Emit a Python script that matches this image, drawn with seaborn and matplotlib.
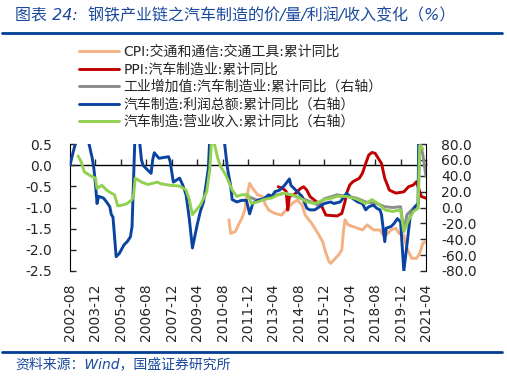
import pandas as pd
import numpy as np
import matplotlib
matplotlib.use('Agg')
import matplotlib.pyplot as plt
import seaborn as sns
from matplotlib.lines import Line2D
from matplotlib.ticker import FormatStrFormatter
import matplotlib.dates as mdates

# values (cumulative yoy)
# left axis
cpi_dates = ['2010-12', '2011-01', '2011-04', '2011-06', '2011-08', '2011-10', '2011-11', '2012-01',
             '2012-03', '2012-06', '2012-09', '2012-11', '2013-01', '2013-05', '2013-09', '2013-12',
             '2014-04', '2014-07', '2014-10', '2014-12', '2015-04', '2015-08', '2015-11', '2016-01',
             '2016-03', '2016-04', '2016-06', '2016-09', '2016-11', '2016-12', '2017-01', '2017-03',
             '2017-06', '2017-09', '2017-12', '2018-03', '2018-07', '2018-11', '2019-01', '2019-03',
             '2019-06', '2019-09', '2019-11', '2020-02', '2020-03', '2020-04', '2020-07', '2020-10',
             '2020-12', '2021-02', '2021-04']
cpi_vals = [-1.29, -1.61, -1.57, -1.41, -1.27, -1.06, -0.78, -0.43,
            -0.55, -0.70, -0.74, -0.94, -1.06, -1.14, -1.18, -1.06,
            -0.90, -0.82, -0.94, -1.18, -1.37, -1.61, -1.81, -2.08,
            -2.28, -2.32, -2.24, -2.12, -2.00, -1.57, -1.29, -1.41,
            -1.45, -1.49, -1.53, -1.41, -1.53, -1.53, -1.65, -1.65,
            -1.53, -1.49, -1.61, -1.65, -1.81, -1.96, -2.20, -2.20,
            -2.08, -1.84, -1.81]

ppi_dates = ['2013-07', '2013-10', '2013-12', '2014-01', '2014-02', '2014-05', '2014-09', '2014-11',
             '2015-01', '2015-03', '2015-07', '2015-10', '2016-01', '2016-08', '2016-11', '2017-01',
             '2017-02', '2017-04', '2017-06', '2017-10', '2017-12', '2018-02', '2018-04', '2018-06',
             '2018-08', '2018-10', '2018-12', '2019-02', '2019-05', '2019-09', '2020-02', '2020-05',
             '2020-08', '2020-10', '2021-01', '2021-04']
ppi_vals = [-0.51, -0.55, -0.62, -1.06, -0.74, -0.70, -0.55, -0.51,
            -0.59, -0.74, -0.86, -0.94, -1.18, -1.20, -1.14, -0.86,
            -0.66, -0.47, -0.39, -0.31, -0.19, 0.04, 0.24, 0.30,
            0.28, 0.16, 0.04, -0.31, -0.59, -0.66, -0.63, -0.51,
            -0.47, -0.39, -0.74, -0.78]

# right axis
iva_dates = ['2011-12', '2012-06', '2012-12', '2013-06', '2013-11', '2014-03', '2014-06', '2014-12',
             '2015-05', '2015-08', '2015-12', '2016-05', '2016-08', '2017-02', '2017-08', '2018-02',
             '2018-09', '2019-02', '2019-07', '2019-12', '2020-02', '2020-04', '2020-09', '2020-11',
             '2020-12', '2021-02', '2021-04']
iva_vals = [14, 9, 13, 16, 18, 16, 14, 10,
            6, 3, 11, 14, 16, 14, 12, 7,
            5, 1, 0, 1, -30, -9, 1, 3,
            85, 66, 39]

profit_dates = ['2002-08', '2002-10', '2002-12', '2003-02', '2003-04', '2003-06', '2003-08', '2003-10',
                '2003-11', '2003-12', '2004-01', '2004-02', '2004-05', '2004-07', '2004-09', '2004-10',
                '2004-11', '2005-01', '2005-03', '2005-06', '2005-08', '2005-10', '2005-11', '2005-12',
                '2006-01', '2006-02', '2006-03', '2006-04', '2006-05', '2006-06', '2006-08', '2006-11',
                '2006-12', '2007-01', '2007-04', '2007-10', '2007-11', '2008-01', '2008-05', '2008-07',
                '2008-09', '2008-11', '2009-01', '2009-04', '2009-06', '2009-08', '2009-11', '2009-12',
                '2010-02', '2010-05', '2010-07', '2010-09', '2010-11', '2011-01', '2011-02', '2011-05',
                '2011-08', '2011-11', '2012-01', '2012-03', '2012-06', '2012-10', '2013-01', '2013-03',
                '2013-05', '2013-08', '2013-11', '2014-02', '2014-03', '2014-06', '2014-10', '2015-01',
                '2015-03', '2015-06', '2015-09', '2015-12', '2016-04', '2016-06', '2016-10', '2017-02',
                '2017-04', '2017-09', '2017-12', '2018-02', '2018-04', '2018-07', '2018-09', '2018-11',
                '2018-12', '2019-02', '2019-03', '2019-06', '2019-08', '2019-10', '2019-12', '2020-02',
                '2020-04', '2020-06', '2020-09', '2020-11', '2020-12']
profit_vals = [53, 70, 85, 110, 120, 105, 80, 62,
               49, 30, 5, 14, 12, 7, 1, -9,
               -12, -62, -58, -47, -43, -37, -24, 37,
               100, 140, 120, 79, 60, 53, 49, 43,
               60, 69, 62, 64, 58, 32, 37, 28,
               16, -14, -51, -22, -5, 7, 49, 90,
               130, 140, 120, 85, 50, 28, 10, 7,
               9, 9, -8, 5, 9, 11, 16, 14,
               20, 22, 28, 36, 28, 22, 14, -1,
               -3, -3, 1, 5, 7, 5, 7, 18,
               14, 7, 5, -3, 1, 3, -1, -3,
               -9, -43, -26, -24, -20, -14, -18, -80,
               -47, -12, 1, 5, 250]

rev_dates = ['2003-01', '2003-03', '2003-05', '2003-08', '2003-12', '2004-01', '2004-04', '2004-07',
             '2004-10', '2004-12', '2005-02', '2005-05', '2005-08', '2005-11', '2005-12', '2006-01',
             '2006-05', '2006-09', '2007-03', '2007-05', '2007-11', '2008-05', '2008-09', '2008-11',
             '2009-01', '2009-06', '2009-10', '2009-12', '2010-01', '2010-02', '2010-03', '2010-05',
             '2010-07', '2010-10', '2011-02', '2011-05', '2011-08', '2011-12', '2012-02', '2012-06',
             '2012-10', '2013-03', '2013-07', '2013-11', '2014-03', '2014-07', '2015-01', '2015-06',
             '2015-12', '2016-05', '2016-08', '2017-02', '2017-08', '2018-02', '2018-06', '2018-11',
             '2019-02', '2019-07', '2019-12', '2020-02', '2020-05', '2020-08', '2020-11', '2020-12',
             '2021-02']
rev_vals = [65, 58, 45, 41, 37, 24, 28, 22,
            18, 16, 2, 3, 5, 10, 16, 37,
            32, 29, 32, 30, 28, 27, 22, 10,
            -9, 3, 20, 49, 85, 90, 79, 62,
            51, 41, 22, 14, 16, 16, 5, 7,
            10, 12, 16, 18, 16, 14, 7, 5,
            10, 12, 14, 14, 11, 5, 10, 3,
            -3, -5, -3, -30, -16, -5, -1, 78,
            74]

labels = ['CPI:交通和通信:交通工具:累计同比',
          'PPI:汽车制造业:累计同比',
          '工业增加值:汽车制造业:累计同比（右轴）',
          '汽车制造:利润总额:累计同比（右轴）',
          '汽车制造:营业收入:累计同比（右轴）']
colors = ['#F4B183', '#C00000', '#8C8C8C', '#0B43A0', '#92D050']

title = '图表 24:  钢铁产业链之汽车制造的价/量/利润/收入变化（%）'
source = '资料来源：Wind，国盛证券研究所'
blue_txt = '#1B4A9C'

sns.set_style('white')
plt.rcParams['font.family'] = ['DejaVu Sans', 'Noto Sans CJK SC']
plt.rcParams['axes.unicode_minus'] = False

def to_dt(lst):
    return pd.to_datetime(lst, format='%Y-%m')

fig = plt.figure(figsize=(5.07, 3.80), dpi=100)
ax = fig.add_axes([70 / 507, 1 - 271 / 380, 356 / 507, 127 / 380])
ax2 = ax.twinx()

lw = 2.1
sns.lineplot(x=to_dt(cpi_dates), y=cpi_vals, ax=ax, color=colors[0], lw=lw, legend=False)
sns.lineplot(x=to_dt(ppi_dates), y=ppi_vals, ax=ax, color=colors[1], lw=lw, legend=False)
sns.lineplot(x=to_dt(iva_dates), y=iva_vals, ax=ax2, color=colors[2], lw=lw, legend=False)
sns.lineplot(x=to_dt(profit_dates), y=profit_vals, ax=ax2, color=colors[3], lw=lw, legend=False)
sns.lineplot(x=to_dt(rev_dates), y=rev_vals, ax=ax2, color=colors[4], lw=lw, legend=False)

xt = pd.date_range('2002-08-01', '2021-04-01', freq='16MS')
ax.set_xlim(xt[0], xt[-1])
ax.set_ylim(-2.5, 0.5)
ax2.set_ylim(-80, 80)

ax.set_xticks(xt)
ax.set_xticklabels([d.strftime('%Y-%m') for d in xt], rotation=90)
ax.tick_params(axis='x', length=0, pad=9, labelsize=10)
ax.set_yticks(np.arange(-2.5, 0.51, 0.5))
ax.yaxis.set_major_formatter(FormatStrFormatter('%.1f'))
ax2.set_yticks(np.arange(-80, 81, 20))
ax2.yaxis.set_major_formatter(FormatStrFormatter('%.1f'))
ax.tick_params(axis='y', direction='in', length=4, width=1, pad=13, labelsize=10)
ax2.tick_params(axis='y', direction='in', length=4, width=1, pad=11, labelsize=10)
ax.set_xlabel('')
ax.set_ylabel('')
ax2.set_ylabel('')

for s in ['top', 'right', 'bottom']:
    ax.spines[s].set_visible(False)
for s in ['top', 'left', 'bottom']:
    ax2.spines[s].set_visible(False)
ax.spines['left'].set_color('black')
ax2.spines['right'].set_color('black')

# zero line of the left axis carries the date ticks
sec = ax.secondary_xaxis(2.5 / 3)
sec.set_xticks(mdates.date2num(xt))
sec.tick_params(direction='out', length=4, width=1, labeltop=False, labelbottom=False)
for sp in sec.spines.values():
    sp.set_color('black')
    sp.set_linewidth(1)

handles = ax.lines[:2] + ax2.lines[:3]
fig.legend(handles, labels, loc='upper left', bbox_to_anchor=(79 / 507, 1 - 45 / 380),
           frameon=False, fontsize=10, handlelength=2.9, handletextpad=0.3,
           labelspacing=0.25, borderpad=0, borderaxespad=0)

fig.text(15 / 507, 1 - 16 / 380, title, color=blue_txt, fontsize=11.5, va='center', style='italic')
fig.add_artist(Line2D([2 / 507, 502 / 507], [1 - 33 / 380] * 2, color='#003E94', lw=2))
fig.add_artist(Line2D([2 / 507, 502 / 507], [1 - 352 / 380] * 2, color='#003E94', lw=2))
fig.text(15 / 507, 1 - 364 / 380, source, color=blue_txt, fontsize=10, va='center', style='italic')

fig.savefig('out.png', dpi=100)
